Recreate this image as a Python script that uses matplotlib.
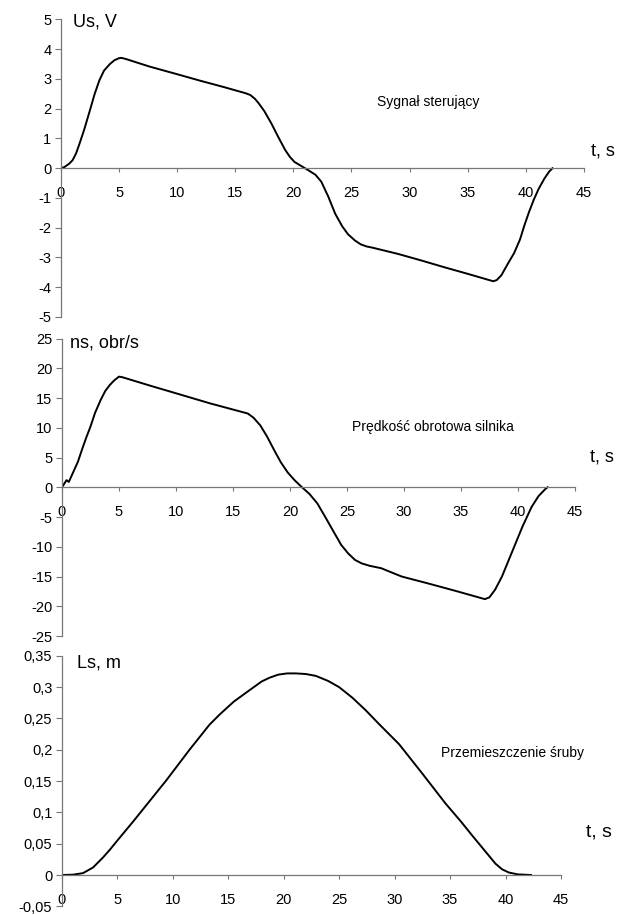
import matplotlib
matplotlib.use("Agg")
import matplotlib.pyplot as plt

plt.rcParams['font.family'] = ['Liberation Sans', 'DejaVu Sans']
plt.rcParams['axes.unicode_minus'] = False

# control signal Us [V]
t_us = [0, 0.3, 0.7, 1.0, 1.3, 1.6, 2.0, 2.5, 2.9, 3.3, 3.7, 4.2, 4.6, 5.0, 5.2, 5.6,
        7.6, 10, 12, 14, 15.9, 16.3, 16.7, 17.0, 17.5, 18.1, 18.7, 19.3, 19.7, 20.1,
        20.7, 21.3, 21.9, 22.4, 23.0, 23.6, 24.2, 24.7, 25.3, 25.8, 26.3, 26.8, 29.0,
        31, 33, 35, 37.2, 37.5, 37.9, 38.4, 39.0, 39.5, 39.9, 40.3, 40.7, 41.1, 41.6,
        42.0, 42.3]
us = [0, 0.04, 0.15, 0.27, 0.5, 0.83, 1.3, 1.96, 2.5, 2.95, 3.28, 3.5, 3.63, 3.7, 3.71,
      3.67, 3.42, 3.16, 2.94, 2.73, 2.52, 2.46, 2.33, 2.19, 1.92, 1.51, 1.05, 0.61, 0.38,
      0.21, 0.07, -0.07, -0.22, -0.45, -0.95, -1.53, -1.95, -2.22, -2.43, -2.56, -2.63,
      -2.67, -2.88, -3.10, -3.33, -3.55, -3.80, -3.76, -3.6, -3.25, -2.85, -2.4, -1.9,
      -1.45, -1.05, -0.7, -0.35, -0.12, 0.0]

# motor speed ns [obr/s]
t_ns = [0, 0.4, 0.6, 1.0, 1.4, 1.75, 2.1, 2.5, 2.9, 3.4, 3.8, 4.2, 4.6, 5.0, 5.3, 7.7,
        10.0, 13.0, 16.3, 16.8, 17.4, 18.0, 18.6, 19.2, 19.8, 20.4, 21.0, 21.7, 22.4,
        23.1, 23.9, 24.5, 25.1, 25.7, 26.3, 27.0, 28.0, 29.8, 32.0, 34.5, 37.1, 37.5,
        38.0, 38.6, 39.2, 39.8, 40.4, 41.2, 41.8, 42.4, 42.6]
ns = [0, 1.2, 0.9, 2.6, 4.3, 6.3, 8.2, 10.2, 12.5, 14.7, 16.2, 17.2, 18.0, 18.6, 18.5,
      17.1, 15.8, 14.1, 12.4, 11.7, 10.4, 8.5, 6.3, 4.2, 2.5, 1.2, 0.1, -1.1, -2.7, -5.0,
      -7.7, -9.7, -11.1, -12.2, -12.8, -13.2, -13.6, -15.0, -16.1, -17.4, -18.8, -18.5,
      -17.2, -15.0, -12.2, -9.4, -6.6, -3.3, -1.5, -0.3, 0]

# screw displacement Ls [m]
t_ls = [0, 1.0, 1.9, 2.8, 3.7, 4.3, 4.9, 5.6, 6.4, 7.9, 9.4, 11.5, 13.3, 14.2, 15.5,
        16.9, 18.0, 18.7, 19.5, 20.3, 21.1, 22.0, 22.9, 24.0, 25.0, 26.2, 27.4, 28.6,
        30.4, 32.5, 34.6, 36.0, 37.0, 37.7, 38.4, 39.1, 39.7, 40.3, 41.1, 42.3]
ls = [0, 0.0005, 0.003, 0.012, 0.028, 0.040, 0.053, 0.068, 0.085, 0.118, 0.151, 0.200,
      0.240, 0.256, 0.277, 0.295, 0.309, 0.315, 0.320, 0.322, 0.322, 0.321, 0.318, 0.310,
      0.300, 0.283, 0.263, 0.241, 0.209, 0.162, 0.114, 0.085, 0.063, 0.048, 0.033, 0.018,
      0.009, 0.004, 0.001, 0.0]

x_ticks = [0, 5, 10, 15, 20, 25, 30, 35, 40, 45]
us_ticks = [-5, -4, -3, -2, -1, 0, 1, 2, 3, 4, 5]
ns_ticks = [-25, -20, -15, -10, -5, 0, 5, 10, 15, 20, 25]
ls_ticks = [-0.05, 0, 0.05, 0.1, 0.15, 0.2, 0.25, 0.3, 0.35]
ls_tick_labels = ['-0,05', '0', '0,05', '0,1', '0,15', '0,2', '0,25', '0,3', '0,35']


def style_axes(ax, yticks, ylim, ylabels=None):
    ax.set_xlim(0, 45)
    ax.set_ylim(*ylim)
    ax.set_xticks(x_ticks)
    ax.set_yticks(yticks)
    if ylabels is not None:
        ax.set_yticklabels(ylabels)
    for s in ['top', 'right']:
        ax.spines[s].set_visible(False)
    ax.spines['bottom'].set_position(('data', 0))
    for s in ['bottom', 'left']:
        ax.spines[s].set_color('#777777')
        ax.spines[s].set_linewidth(0.9)
    ax.tick_params(axis='x', direction='out', length=3, pad=10, labelsize=10.5,
                   color='#777777')
    ax.tick_params(axis='y', direction='out', length=4, pad=3, labelsize=10.5,
                   color='#777777')
    ax.patch.set_alpha(0)


fig = plt.figure(figsize=(6.21, 9.15), dpi=100)

ax1 = fig.add_axes([0.0982, 0.6536, 0.842, 0.3251])
ax1.plot(t_us, us, color='black', lw=1.4)
style_axes(ax1, us_ticks, (-5, 5))

ax2 = fig.add_axes([0.0998, 0.3049, 0.826, 0.3251])
ax2.plot(t_ns, ns, color='black', lw=1.4)
style_axes(ax2, ns_ticks, (-25, 25))

ax3 = fig.add_axes([0.0998, 0.0095, 0.8035, 0.2737])
ax3.plot(t_ls, ls, color='black', lw=1.4)
style_axes(ax3, ls_ticks, (-0.05, 0.35), ls_tick_labels)

# axis names
fig.text(0.118, 0.976, 'Us, V', fontsize=13, va='center')
fig.text(0.113, 0.625, 'ns, obr/s', fontsize=13, va='center')
fig.text(0.1235, 0.2754, 'Ls, m', fontsize=13, va='center')
fig.text(0.971, 0.835, 't, s', fontsize=13, ha='center', va='center')
fig.text(0.970, 0.501, 't, s', fontsize=13, ha='center', va='center')
fig.text(0.965, 0.091, 't, s', fontsize=14, ha='center', va='center')

# curve captions
fig.text(0.689, 0.8885, 'Sygnał sterujący', fontsize=10, ha='center', va='center')
fig.text(0.697, 0.533, 'Prędkość obrotowa silnika', fontsize=10, ha='center', va='center')
fig.text(0.826, 0.177, 'Przemieszczenie śruby', fontsize=10, ha='center', va='center')

fig.savefig('out.png', dpi=100)
